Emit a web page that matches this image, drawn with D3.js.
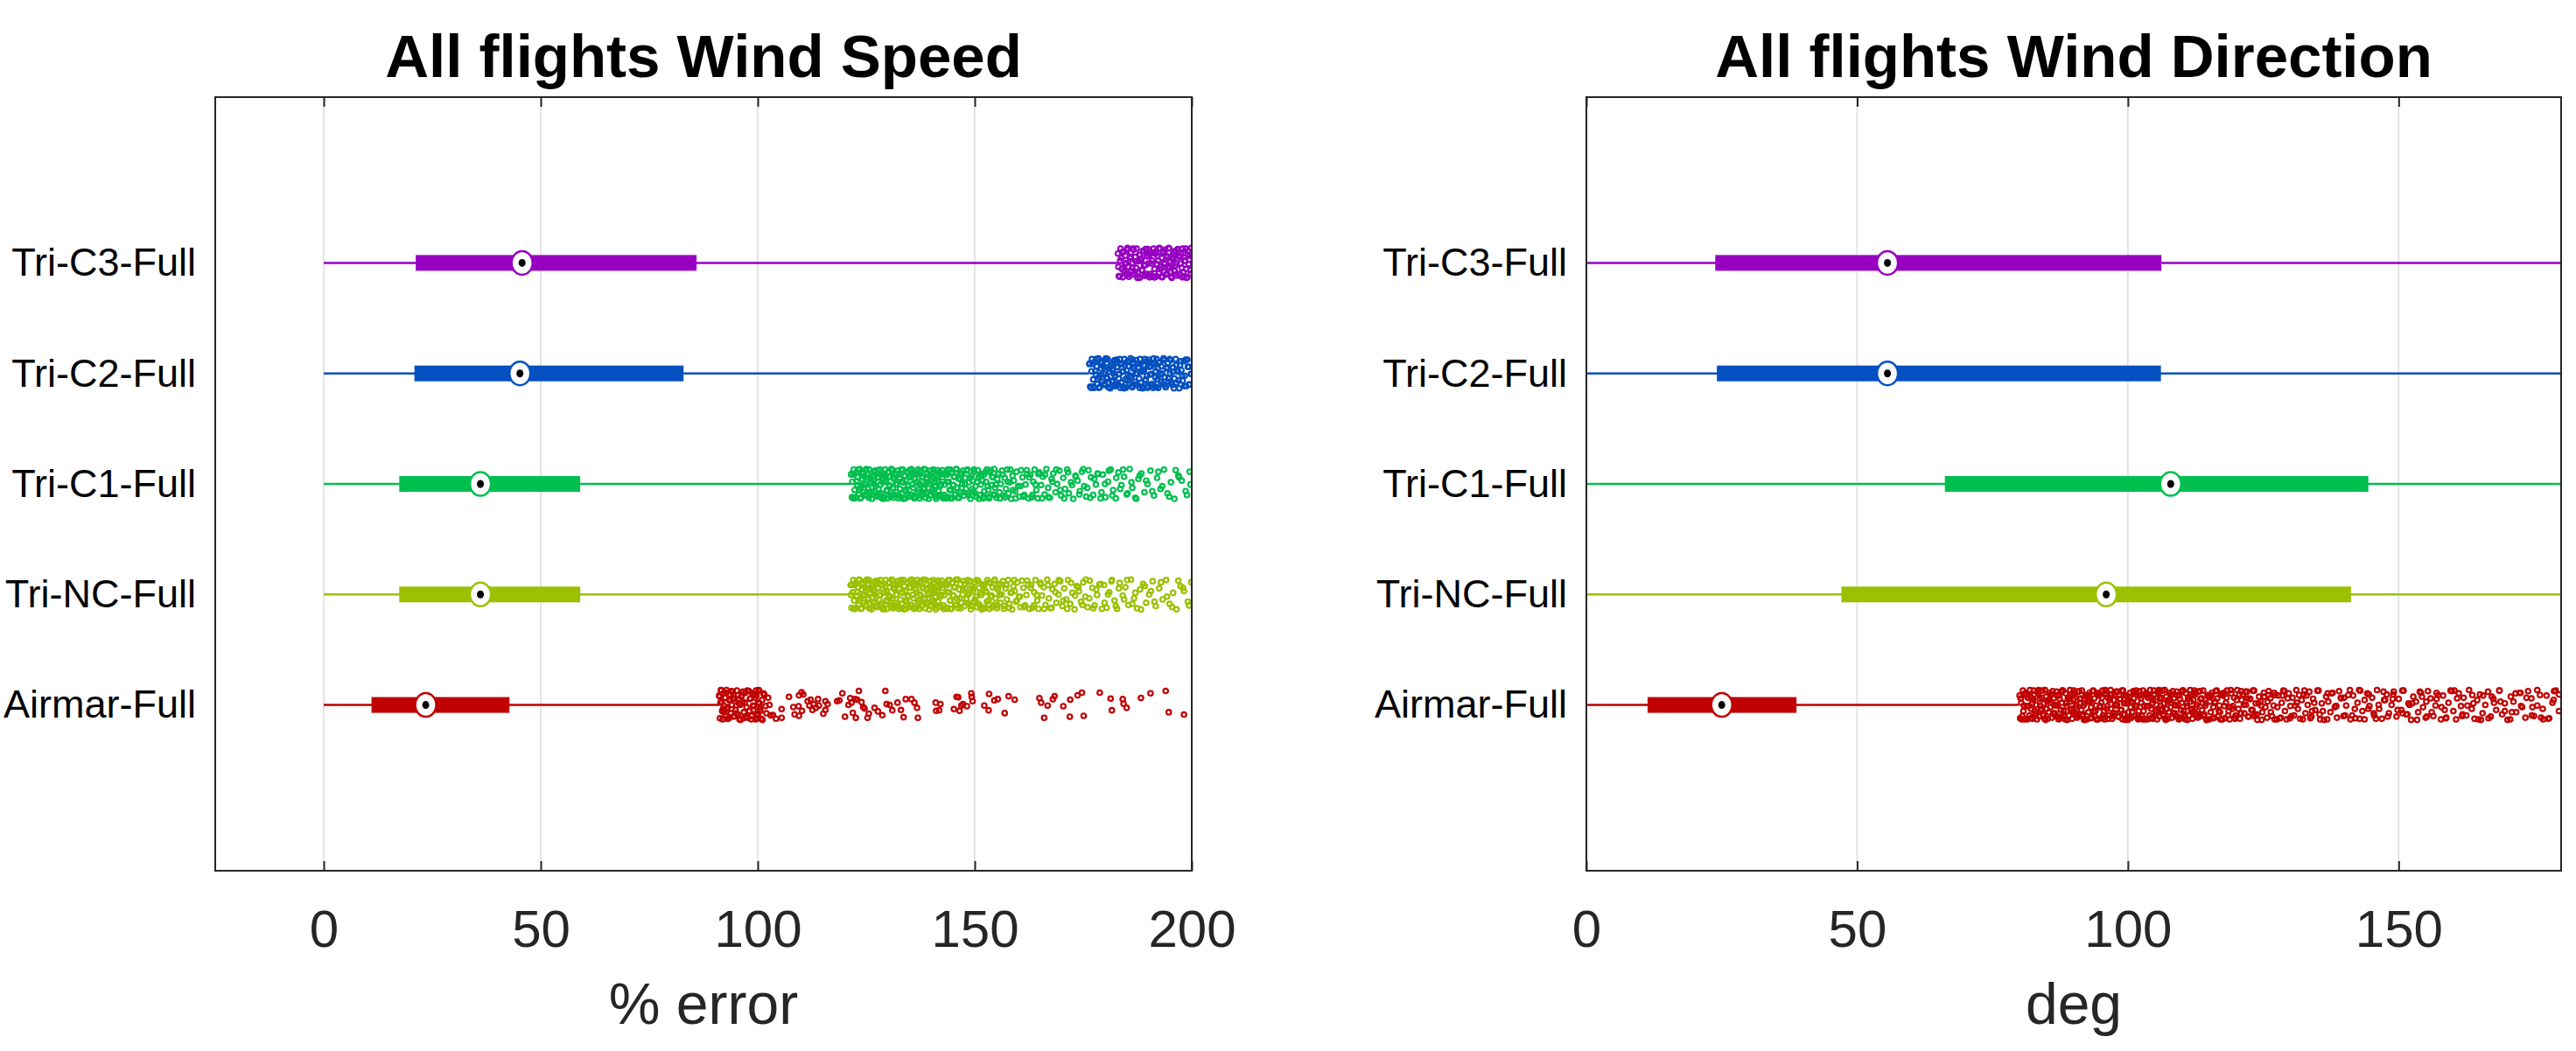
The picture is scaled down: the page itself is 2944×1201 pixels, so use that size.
<!DOCTYPE html>
<html>
<head>
<meta charset="utf-8">
<script src="https://cdn.jsdelivr.net/npm/d3@7"></script>
<style>
  body { margin: 0; background: #fff; }
  svg text { font-family: "Liberation Sans", Arial, Helvetica, sans-serif; }
</style>
</head>
<body>
<div class="chart"></div>
<script>
// declare global values
const WIDTH = 2944;
const HEIGHT = 1201;

// categories, bottom row first
const CATEGORIES = ["Airmar-Full", "Tri-NC-Full", "Tri-C1-Full", "Tri-C2-Full", "Tri-C3-Full"];
const COLORS = ["#c00000", "#9bc000", "#00bf4f", "#0450c0", "#9700c0"];

// wind speed box stats (% error)
const SPEED_LO = [0, 0, 0, 0, 0];
const SPEED_Q1 = [11.0, 17.4, 17.4, 20.9, 21.2];
const SPEED_MED = [23.5, 36.1, 36.1, 45.2, 45.7];
const SPEED_Q3 = [42.8, 59.1, 59.1, 82.9, 85.9];
const SPEED_HI = [91.0, 121.4, 121.4, 176.3, 182.9];

// wind direction box stats (deg)
const DIR_LO = [0, 0, 0, 0, 0];
const DIR_Q1 = [11.3, 47.1, 66.2, 24.1, 23.8];
const DIR_MED = [25.0, 96.0, 107.9, 55.6, 55.6];
const DIR_Q3 = [38.8, 141.2, 144.4, 106.1, 106.2];
const DIR_HI = [79.8, 180, 180, 180, 180];

const SPEED_TICKS = [0, 50, 100, 150, 200];
const DIR_TICKS = [0, 50, 100, 150];

// vertical jitter of outliers (row units)
const JITTER = [0.085, -0.12, 0.02, 0.13, -0.055, -0.13, 0.105, -0.01, 0.065, -0.095, 0.135, -0.035, -0.125,
  0.045, 0.095, -0.075, 0.0, 0.12, -0.105, 0.055, -0.045, 0.13, -0.085, 0.015, -0.135, 0.075, 0.03, -0.065,
  0.11, -0.02, -0.115, 0.125, 0.06, -0.1, -0.005, 0.09, -0.13];

// outliers, speed
const SPEED_OUT_AIRMAR = [91.1, 91.3, 91.4, 91.6, 91.8, 91.9, 92.1, 92.3, 92.5, 92.6, 92.8, 93.0, 93.2, 93.4,
  93.6, 93.8, 94.0, 94.2, 94.5, 94.7, 94.9, 95.2, 95.4, 95.7, 96.0, 96.2, 96.5, 96.8, 97.1, 97.4, 97.7,
  98.0, 98.3, 98.6, 98.9, 99.2, 99.5, 99.7, 99.9, 100.1, 100.3, 100.6, 100.9, 101.3, 101.8, 102.4, 103.0,
  91.5, 92.0, 92.9, 93.7, 94.4, 95.0, 95.9, 96.6, 97.3, 98.2, 99.0, 99.6, 100.0, 100.4, 101.1,
  91.2, 91.7, 92.2, 92.7, 93.1, 93.5, 93.9, 94.3, 94.6, 95.1, 95.5, 95.8, 96.3, 96.7, 97.0, 97.6, 98.1,
  98.5, 98.8, 99.1, 99.4, 99.8, 100.2, 100.5, 100.8, 101.0, 101.5, 102.0, 102.7,
  [105.5, -0.037], [104.2, -0.124], [105.5, -0.116], [103.5, -0.09], [107.2, 0.074], [109.5, 0.087],
  [110.1, 0.114], [110.5, 0.095], [108.2, -0.019], [109.4, -0.011], [108.5, -0.085], [109.5, -0.098],
  [110.2, -0.053], [111.5, 0.034], [112.2, 0.048], [111.9, -0.005], [112.9, 0.008], [113.4, -0.026],
  [112.6, -0.045], [113.9, 0.053], [114.1, -0.005], [115.1, -0.079], [115.6, 0.034], [116.1, 0.008],
  [115.6, -0.045], [118.3, 0.034], [118.8, 0.042], [119.5, 0.106], [120.1, -0.106], [121.3, 0.061],
  [121.6, 0.021], [121.9, -0.071], [120.9, 0.0], [122.4, 0.053], [122.9, 0.048], [122.6, -0.116],
  [123.3, 0.127], [123.9, 0.026], [124.3, -0.019], [124.6, -0.032], [125.3, -0.116], [125.6, -0.079],
  [126.9, -0.026], [127.7, -0.058], [128.7, -0.093], [129.4, 0.127], [129.7, 0.008], [130.4, 0.0],
  [131.0, -0.048], [132.2, 0.021], [133.0, -0.045], [133.6, -0.111], [134.1, 0.053], [135.4, 0.053],
  [136.1, 0.021], [136.7, -0.026], [136.9, -0.116], [141.0, 0.021], [142.1, 0.008], [141.1, -0.053],
  [141.8, -0.048], [145.2, -0.037], [145.8, 0.074], [146.2, 0.069], [146.5, -0.053], [146.9, -0.005],
  [147.3, 0.008], [148.2, -0.011], [149.2, 0.106], [149.3, 0.074], [149.5, 0.034], [152.2, -0.005],
  [153.2, -0.048], [153.3, 0.1], [154.5, 0.042], [155.3, 0.053], [156.9, -0.074], [157.8, 0.079],
  [159.2, 0.048], [164.9, 0.061], [165.3, 0.021], [166.0, -0.116], [166.8, -0.005], [168.0, 0.053],
  [168.4, 0.079], [170.4, -0.011], [172.0, 0.048], [171.9, -0.106], [173.7, 0.087], [174.7, 0.111],
  [175.1, -0.098], [178.8, 0.111], [181.3, 0.058], [181.6, -0.048], [184.1, 0.053], [184.3, 0.011],
  [185.0, -0.026], [188.3, 0.063], [190.5, 0.106], [194.0, 0.127], [194.7, -0.066], [198.2, -0.087]];

const SPEED_OUT_NC = [121.4, 121.6, 121.9, 122.0, 122.2, 122.5, 122.6, 122.8, 123.1, 123.2, 123.4, 123.6,
  123.9, 124.0, 124.2, 124.5, 124.6, 124.8, 125.0, 125.3, 125.4, 125.6, 125.9, 126.0, 126.2, 126.4, 126.7,
  126.8, 127.0, 127.3, 127.4, 127.6, 127.8, 128.1, 128.2, 128.4, 128.7, 128.8, 129.0, 129.2, 129.5, 129.6,
  129.8, 130.1, 130.2, 130.4, 130.6, 130.9, 131.0, 131.2, 131.5, 131.6, 131.8, 132.0, 132.3, 132.4, 132.6,
  132.9, 133.0, 133.2, 133.4, 133.7, 133.8, 134.0, 134.3, 134.4, 134.6, 134.8, 135.1, 135.2, 135.4, 135.7,
  135.8, 136.0, 136.2, 136.5, 136.6, 136.8, 137.1, 137.2, 137.4, 137.6, 137.9, 138.0, 138.2, 138.5, 138.6,
  138.8, 139.0, 139.3, 139.4, 139.6, 139.9, 140.0, 140.2, 140.4, 140.7, 140.8, 141.0, 141.3, 141.4, 141.6,
  141.8, 142.1, 142.2, 142.4, 142.7, 142.8, 143.0, 143.2, 143.5, 143.6, 143.8, 144.1, 144.2, 144.4, 144.6,
  144.9, 145.0, 145.2, 145.5, 145.7, 145.9, 146.2, 146.4, 146.7, 146.9, 147.2, 147.4, 147.6, 147.9, 148.1,
  148.4, 148.6, 148.8, 149.1, 149.3, 149.6, 149.8, 150.0, 150.3, 150.5, 150.8, 151.0, 151.2, 151.5, 151.7,
  152.0, 152.2, 152.4, 152.7, 152.9, 153.2, 153.4, 153.6, 153.9, 154.1, 154.4, 154.6, 154.8, 155.1, 155.3,
  155.6, 155.9, 156.2, 156.5, 156.8, 157.1, 157.4, 157.7, 158.0, 158.3, 158.6, 158.9, 159.2, 159.5, 159.8,
  160.2, 160.5, 160.9, 161.2, 161.6, 161.9, 162.3, 162.6, 163.0, 163.3, 163.7, 164.0, 164.4, 164.7, 165.1,
  165.5, 165.9, 166.3, 166.7, 167.1, 167.5, 167.9, 168.4, 168.8, 169.3, 169.7, 170.2, 170.6, 171.1, 171.5,
  172.0, 172.5, 173.0, 173.5, 174.0, 174.5, 175.0, 175.5, 176.0, 176.5, 177.1, 177.6, 178.2, 178.7, 179.3,
  179.8, 180.4, 181.0, 181.6, 182.2, 182.8, 183.4, 184.1, 184.7, 185.4, 186.0, 186.7, 187.4, 188.1, 188.8,
  189.5, 190.2, 191.0, 191.7, 192.5, 193.3, 194.1, 194.9, 195.7, 196.5, 197.4, 198.2, 199.1, 199.9,
  160.4, 161.3, 162.1, 162.9, 163.6, 164.3, 165.2, 166.0, 166.9, 167.7, 168.6, 169.4, 170.4, 171.3, 172.2,
  173.1, 173.9, 174.8, 175.6, 176.4, 177.3, 178.0, 179.0, 179.9, 180.7, 181.5, 182.5, 183.2, 184.4, 185.1,
  186.3, 187.0, 188.3, 189.2, 190.6, 191.4, 192.9, 194.3, 195.5, 196.9, 198.0, 199.4,
  121.5, 121.8, 122.1, 122.4, 122.7, 122.9, 123.3, 123.5, 123.8, 124.1, 124.3, 124.7, 124.9, 125.2, 125.5,
  125.7, 126.1, 126.3, 126.6, 126.9, 127.1, 127.5, 127.7, 128.0, 128.3, 128.5, 128.9, 129.1, 129.4, 129.7,
  129.9, 130.3, 130.5, 130.8, 131.1, 131.3, 131.7, 131.9, 132.2, 132.5, 132.7, 133.1, 133.3, 133.6, 133.9,
  134.1, 134.5, 134.7, 135.0, 135.3, 135.5, 135.9, 136.1, 136.4, 136.7, 136.9, 137.3, 137.5, 137.8, 138.1,
  138.3, 138.7, 138.9, 139.2, 139.5, 139.7, 140.1, 140.3, 140.6, 140.9, 141.1, 141.5, 141.7, 142.0, 142.3,
  142.5, 142.9, 143.1, 143.4, 143.7, 143.9, 144.3, 144.5, 144.8, 145.1, 145.4, 145.8, 146.1, 146.5, 146.8,
  147.3, 147.7, 148.0, 148.5, 148.9, 149.2, 149.7, 150.1, 150.4, 150.9, 151.3, 151.6, 152.1, 152.5, 152.8,
  153.3, 153.7, 154.0, 154.5, 154.9, 155.2, 155.7, 156.1, 156.7, 157.3, 157.9, 158.5, 159.1, 159.7];

const SPEED_OUT_C1 = [121.5, 121.7, 121.8, 122.1, 122.3, 122.4, 122.7, 122.9, 123.0, 123.3, 123.5, 123.7,
  123.8, 124.1, 124.3, 124.4, 124.7, 124.9, 125.1, 125.2, 125.5, 125.7, 125.8, 126.1, 126.3, 126.5, 126.6,
  126.9, 127.1, 127.2, 127.5, 127.7, 127.9, 128.0, 128.3, 128.5, 128.6, 128.9, 129.1, 129.3, 129.4, 129.7,
  129.9, 130.0, 130.3, 130.5, 130.7, 130.8, 131.1, 131.3, 131.4, 131.7, 131.9, 132.1, 132.2, 132.5, 132.7,
  132.8, 133.1, 133.3, 133.5, 133.6, 133.9, 134.1, 134.2, 134.5, 134.7, 134.9, 135.0, 135.3, 135.5, 135.6,
  135.9, 136.1, 136.3, 136.4, 136.7, 136.9, 137.0, 137.3, 137.5, 137.7, 137.8, 138.1, 138.3, 138.4, 138.7,
  138.9, 139.1, 139.2, 139.5, 139.7, 139.8, 140.1, 140.3, 140.5, 140.6, 140.9, 141.1, 141.2, 141.5, 141.7,
  141.9, 142.0, 142.3, 142.5, 142.6, 142.9, 143.1, 143.3, 143.4, 143.7, 143.9, 144.0, 144.3, 144.5, 144.7,
  144.8, 145.1, 145.3, 145.4, 145.7, 145.9, 146.1, 146.3, 146.6, 146.8, 147.1, 147.3, 147.5, 147.8, 148.0,
  148.3, 148.5, 148.7, 149.0, 149.2, 149.5, 149.7, 149.9, 150.2, 150.4, 150.7, 150.9, 151.1, 151.4, 151.6,
  151.9, 152.1, 152.3, 152.6, 152.8, 153.1, 153.3, 153.5, 153.8, 154.0, 154.3, 154.5, 154.7, 155.0, 155.2,
  155.5, 155.7, 156.0, 156.3, 156.6, 156.9, 157.2, 157.5, 157.8, 158.1, 158.4, 158.7, 159.0, 159.3, 159.6,
  160.0, 160.3, 160.7, 161.0, 161.4, 161.7, 162.1, 162.4, 162.8, 163.1, 163.5, 163.8, 164.2, 164.5, 164.9,
  165.3, 165.7, 166.1, 166.5, 166.9, 167.3, 167.7, 168.1, 168.6, 169.0, 169.5, 169.9, 170.4, 170.8, 171.3,
  171.7, 172.2, 172.7, 173.2, 173.7, 174.2, 174.7, 175.2, 175.7, 176.2, 176.8, 177.3, 177.9, 178.4, 179.0,
  179.5, 180.1, 180.7, 181.3, 181.9, 182.5, 183.1, 183.8, 184.4, 185.0, 185.7, 186.3, 187.0, 187.7, 188.4,
  189.1, 189.8, 190.5, 191.3, 192.0, 192.8, 193.6, 194.4, 195.2, 196.0, 196.9, 197.7, 198.6, 199.5,
  160.5, 161.2, 162.0, 162.6, 163.3, 164.0, 164.7, 165.5, 166.2, 167.0, 167.9, 168.8, 169.7, 170.6, 171.5,
  172.4, 173.3, 174.1, 175.0, 175.9, 176.6, 177.5, 178.3, 179.2, 180.0, 180.9, 181.7, 182.6, 183.5, 184.2,
  185.2, 186.1, 187.2, 188.0, 189.5, 190.9, 192.3, 193.2, 194.8, 196.3, 197.1, 198.9, 199.7,
  121.6, 122.0, 122.2, 122.6, 122.8, 123.2, 123.4, 123.6, 124.0, 124.2, 124.6, 124.8, 125.0, 125.4, 125.6,
  126.0, 126.2, 126.4, 126.8, 127.0, 127.4, 127.6, 127.8, 128.2, 128.4, 128.8, 129.0, 129.2, 129.6, 129.8,
  130.2, 130.4, 130.6, 131.0, 131.2, 131.6, 131.8, 132.0, 132.4, 132.6, 133.0, 133.2, 133.4, 133.8, 134.0,
  134.4, 134.6, 134.8, 135.2, 135.4, 135.8, 136.0, 136.2, 136.6, 136.8, 137.2, 137.4, 137.6, 138.0, 138.2,
  138.6, 138.8, 139.0, 139.4, 139.6, 140.0, 140.2, 140.4, 140.8, 141.0, 141.4, 141.6, 141.8, 142.2, 142.4,
  142.8, 143.0, 143.2, 143.6, 143.8, 144.2, 144.4, 144.6, 145.0, 145.2, 145.6, 145.8, 146.0, 146.4, 146.7,
  147.0, 147.4, 147.7, 148.2, 148.6, 148.9, 149.4, 149.8, 150.1, 150.6, 151.0, 151.3, 151.8, 152.2, 152.5,
  153.0, 153.4, 153.7, 154.2, 154.6, 154.9, 155.4, 155.8, 156.4, 157.0, 157.6, 158.2, 158.8, 159.4];

const SPEED_OUT_C2 = [176.4, 176.6, 176.9, 177.0, 177.3, 177.5, 177.6, 177.9, 178.1, 178.2, 178.5, 178.7,
  178.8, 179.1, 179.3, 179.4, 179.7, 179.9, 180.0, 180.3, 180.5, 180.6, 180.9, 181.1, 181.2, 181.5, 181.7,
  181.8, 182.1, 182.3, 182.4, 182.7, 182.9, 183.0, 183.3, 183.5, 183.6, 183.9, 184.1, 184.2, 184.5, 184.7,
  184.8, 185.1, 185.3, 185.4, 185.7, 185.9, 186.1, 186.3, 186.5, 186.6, 186.9, 187.1, 187.2, 187.5, 187.7,
  187.9, 188.1, 188.3, 188.4, 188.7, 188.9, 189.0, 189.3, 189.5, 189.7, 189.9, 190.1, 190.2, 190.5, 190.7,
  190.9, 191.1, 191.3, 191.5, 191.7, 191.9, 192.1, 192.3, 192.6, 192.8, 193.0, 193.3, 193.5, 193.8, 194.0,
  194.2, 194.5, 194.7, 195.0, 195.2, 195.5, 195.7, 196.0, 196.3, 196.5, 196.8, 197.1, 197.3, 197.6, 197.9,
  198.2, 198.4, 198.7, 199.0, 199.3, 199.5, 199.8,
  176.5, 176.8, 177.2, 177.4, 177.8, 178.0, 178.4, 178.6, 179.0, 179.2, 179.6, 179.8, 180.2, 180.4, 180.8,
  181.0, 181.4, 181.6, 182.0, 182.2, 182.6, 182.8, 183.2, 183.4, 183.8, 184.0, 184.4, 184.6, 185.0, 185.2,
  185.6, 185.8, 186.2, 186.4, 186.8, 187.0, 187.4, 187.6, 188.0, 188.2, 188.6, 188.8, 189.2, 189.4, 189.8,
  190.0, 190.4, 190.6, 191.0, 191.2, 191.6, 191.8, 192.2, 192.4, 192.9, 193.2, 193.6, 193.9, 194.3, 194.6,
  194.9, 195.3, 195.6, 195.9, 196.4, 196.7, 197.0, 197.5, 197.8, 198.3, 198.6, 199.1, 199.4, 199.9];

const SPEED_OUT_C3 = [183.0, 183.2, 183.5, 183.6, 183.9, 184.1, 184.3, 184.6, 184.7, 185.0, 185.2, 185.4,
  185.5, 185.8, 186.0, 186.1, 186.4, 186.6, 186.7, 187.0, 187.2, 187.3, 187.6, 187.8, 188.0, 188.1, 188.4,
  188.5, 188.8, 189.0, 189.1, 189.4, 189.6, 189.7, 190.0, 190.2, 190.3, 190.6, 190.8, 190.9, 191.2, 191.4,
  191.5, 191.8, 192.0, 192.1, 192.4, 192.5, 192.8, 193.0, 193.1, 193.4, 193.6, 193.8, 193.9, 194.2, 194.4,
  194.5, 194.8, 195.0, 195.1, 195.4, 195.6, 195.7, 196.0, 196.2, 196.3, 196.6, 196.8, 196.9, 197.2, 197.4,
  197.5, 197.8, 198.0, 198.2, 198.4, 198.6, 198.7, 199.0, 199.2, 199.3, 199.6, 199.8, 199.9,
  183.1, 183.4, 183.8, 184.0, 184.4, 184.9, 185.1, 185.6, 185.9, 186.3, 186.5, 186.9, 187.1, 187.5, 187.9,
  188.2, 188.6, 188.9, 189.3, 189.5, 189.9, 190.1, 190.5, 190.7, 191.1, 191.3, 191.7, 191.9, 192.3, 192.7,
  192.9, 193.2, 193.5, 193.7, 194.1, 194.3, 194.7, 194.9, 195.3, 195.5, 195.9, 196.1, 196.5, 196.7, 197.1,
  197.3, 197.7, 197.9, 198.1, 198.5, 198.8, 199.1, 199.4, 199.7];

// outliers, direction
const DIR_OUT_AIRMAR = [80.0, 80.1, 80.3, 80.6, 80.7, 80.9, 81.2, 81.3, 81.5, 81.8, 81.9, 82.1, 82.4, 82.5,
  82.7, 83.0, 83.1, 83.3, 83.6, 83.7, 83.9, 84.2, 84.3, 84.5, 84.8, 84.9, 85.1, 85.4, 85.5, 85.7, 86.0,
  86.1, 86.3, 86.6, 86.7, 86.9, 87.2, 87.3, 87.5, 87.8, 87.9, 88.1, 88.4, 88.5, 88.7, 89.0, 89.1, 89.3,
  89.6, 89.7, 89.9, 90.2, 90.3, 90.5, 90.8, 90.9, 91.1, 91.4, 91.5, 91.7, 92.0, 92.1, 92.3, 92.6, 92.7,
  92.9, 93.2, 93.3, 93.5, 93.8, 93.9, 94.1, 94.4, 94.5, 94.7, 95.0, 95.1, 95.3, 95.6, 95.7, 95.9, 96.2,
  96.3, 96.5, 96.8, 96.9, 97.1, 97.4, 97.5, 97.7, 98.0, 98.1, 98.3, 98.6, 98.7, 98.9, 99.2, 99.3, 99.5,
  99.8, 99.9, 100.1, 100.4, 100.5, 100.7, 101.0, 101.1, 101.3, 101.6, 101.7, 101.9, 102.2, 102.3, 102.5,
  102.8, 102.9, 103.1, 103.4, 103.5, 103.7, 104.0, 104.1, 104.3, 104.6, 104.7, 104.9, 105.2, 105.3, 105.5,
  105.8, 105.9, 106.1, 106.4, 106.5, 106.7, 107.0, 107.1, 107.3, 107.6, 107.7, 107.9, 108.2, 108.3, 108.5,
  108.8, 108.9, 109.1, 109.4, 109.5, 109.7, 110.0, 110.1, 110.3, 110.6, 110.7, 110.9, 111.2, 111.3, 111.5,
  111.8, 111.9, 112.1, 112.4, 112.5, 112.7, 113.0, 113.2, 113.4, 113.7, 113.9, 114.1, 114.4, 114.6, 114.8,
  115.1, 115.3, 115.5, 115.8, 116.0, 116.2, 116.5, 116.7, 116.9, 117.2, 117.4, 117.6, 117.9, 118.1, 118.3,
  118.6, 118.8, 119.1, 119.4, 119.6, 119.9, 120.2, 120.4, 120.7, 121.0, 121.2, 121.5, 121.8, 122.0, 122.3,
  122.6, 122.8, 123.1, 123.4, 123.6, 123.9, 124.2, 124.5, 124.8, 125.1, 125.4, 125.7, 126.0, 126.3, 126.6,
  126.9, 127.2, 127.5, 127.8, 128.1, 128.4, 128.7, 129.0, 129.3, 129.7, 130.0, 130.4, 130.7, 131.1, 131.4,
  131.8, 132.1, 132.5, 132.8, 133.2, 133.5, 133.9, 134.2, 134.6, 135.0, 135.4, 135.8, 136.2, 136.6, 137.0,
  137.4, 137.8, 138.2, 138.6, 139.0, 139.4, 139.8, 140.3, 140.7, 141.1, 141.6, 142.0, 142.4, 142.9, 143.3,
  143.7, 144.2, 144.6, 145.1, 145.5, 146.0, 146.4, 146.9, 147.3, 147.8, 148.2, 148.7, 149.1, 149.6, 150.0,
  150.5, 150.9, 151.4, 151.8, 152.3, 152.7, 153.2, 153.6, 154.1, 154.5, 155.0, 155.4, 155.9, 156.4, 156.8,
  157.3, 157.8, 158.2, 158.7, 159.2, 159.6, 160.1, 160.6, 161.1, 161.5, 162.0, 162.5, 163.0, 163.5, 164.0,
  164.5, 165.0, 165.5, 166.0, 166.5, 167.0, 167.5, 168.0, 168.6, 169.1, 169.6, 170.1, 170.7, 171.2, 171.7,
  172.3, 172.8, 173.4, 173.9, 174.5, 175.0, 175.6, 176.1, 176.7, 177.3, 177.8, 178.4, 179.0, 179.6,
  80.4, 81.0, 81.7, 82.2, 82.9, 83.5, 84.0, 84.6, 85.3, 85.9, 86.5, 87.0, 87.7, 88.3, 88.9, 89.4, 90.0,
  90.7, 91.2, 91.9, 92.5, 93.0, 93.7, 94.3, 94.8, 95.5, 96.0, 96.7, 97.2, 97.9, 98.4, 99.0, 99.6, 100.3,
  100.9, 101.5, 102.0, 102.7, 103.3, 103.9, 104.4, 105.0, 105.7, 106.3, 106.9, 107.5, 108.0, 108.7, 109.3,
  109.9, 110.5, 111.1, 111.7, 112.3, 113.1, 113.8, 114.5, 115.2, 116.1, 117.0, 117.8, 118.9, 119.7, 120.9,
  122.1, 123.3, 124.6, 125.9, 127.1, 128.5, 129.9, 131.2, 132.6, 134.0, 135.5, 136.9, 138.4, 139.9, 141.4,
  142.7, 144.4, 145.8, 147.5, 149.0, 150.7, 152.0, 153.9, 155.2, 157.0, 158.5, 160.3, 161.8, 163.8, 165.2,
  167.2, 168.8, 170.9, 172.5, 174.7, 176.3, 178.7,
  80.2, 80.5, 80.8, 81.1, 81.4, 81.6, 82.0, 82.3, 82.6, 82.8, 83.2, 83.4, 83.8, 84.1, 84.4, 84.7, 85.0,
  85.2, 85.6, 85.8, 86.2, 86.4, 86.8, 87.1, 87.4, 87.6, 88.0, 88.2, 88.6, 88.8, 89.2, 89.5, 89.8, 90.0,
  90.4, 90.6, 91.0, 91.3, 91.6, 91.8, 92.2, 92.4, 92.8, 93.1, 93.4, 93.6, 94.0, 94.2, 94.6, 94.9, 95.2,
  95.4, 95.8, 96.1, 96.4, 96.6, 97.0, 97.3, 97.6, 97.8, 98.2, 98.5, 98.8, 99.1, 99.4, 99.7, 100.0, 100.2,
  100.6, 100.8, 101.2, 101.4, 101.8, 102.1, 102.4, 102.6, 103.0, 103.2, 103.6, 103.8, 104.2, 104.5, 104.8,
  105.1, 105.4, 105.6, 106.0, 106.2, 106.6, 106.8, 107.2, 107.4, 107.8, 108.1, 108.4, 108.6, 109.0, 109.2,
  109.6, 109.8, 110.2, 110.4, 110.8, 111.0, 111.4, 111.6, 112.0, 112.2, 112.6, 112.9, 113.3, 113.6, 114.0,
  114.3, 114.7, 115.0, 115.4, 115.7, 116.1, 116.4, 116.8, 117.1, 117.5, 117.8, 118.2, 118.5, 119.0, 119.3,
  119.8, 120.1, 120.6, 120.9, 121.4, 121.7, 122.2, 122.5, 123.0, 123.3, 123.8, 124.1, 124.7, 125.2, 125.8,
  126.4, 127.0, 127.6, 128.2, 128.9, 129.5, 130.2, 130.9, 131.6, 132.3, 133.0, 133.7, 134.4, 135.2, 136.0,
  136.8, 137.6, 138.5, 139.3, 140.1, 141.0, 141.9, 142.8, 143.7, 144.5, 145.4, 146.3, 147.2, 148.0, 148.9,
  149.8, 150.7, 151.6, 152.5, 153.4, 154.3, 155.1, 156.1, 157.0, 157.9, 158.8, 159.8, 160.8, 161.7, 162.7,
  163.6, 164.7, 165.6, 166.6, 167.6, 168.6, 169.6, 170.6, 171.6, 172.6, 173.6, 174.6, 175.6, 176.6, 177.6,
  178.6, 179.6];

// append the svg object to the page
var svg = d3
  .select(".chart")
  .append("svg")
  .attr("width", WIDTH)
  .attr("height", HEIGHT);

svg.append("rect").attr("width", WIDTH).attr("height", HEIGHT).attr("fill", "#fff");

const TOP = 111;
const BOTTOM = 995;

// DRAW ONE PANEL
const DRAWPANEL = (p) => {
  var x = d3.scaleLinear().domain(p.domain).range([p.left, p.right]);
  var y = d3.scaleLinear().domain([-0.5, 6.5]).range([BOTTOM, TOP]);
  var g = svg.append("g");

  g.append("clipPath")
    .attr("id", p.id)
    .append("rect")
    .attr("x", p.left)
    .attr("y", TOP)
    .attr("width", p.right - p.left)
    .attr("height", BOTTOM - TOP);

  // grid lines
  g.selectAll(".grid")
    .data(p.ticks)
    .enter()
    .append("line")
    .attr("x1", (d) => x(d))
    .attr("x2", (d) => x(d))
    .attr("y1", TOP)
    .attr("y2", BOTTOM)
    .attr("stroke", "#dedede")
    .attr("stroke-width", 1.6);

  var plot = g.append("g").attr("clip-path", "url(#" + p.id + ")");

  CATEGORIES.forEach(function (c, i) {
    var row = i + 1;
    var color = COLORS[i];

    // outliers
    plot
      .append("g")
      .selectAll("circle")
      .data(p.out[i])
      .enter()
      .append("circle")
      .attr("cx", (d) => x(Array.isArray(d) ? d[0] : d))
      .attr("cy", (d, k) => y(row + (Array.isArray(d) ? d[1] : JITTER[k % JITTER.length])))
      .attr("r", 2.7)
      .attr("fill", "none")
      .attr("stroke", color)
      .attr("stroke-width", 2.2);

    // whisker line
    plot
      .append("line")
      .attr("x1", x(p.lo[i]))
      .attr("x2", x(p.hi[i]))
      .attr("y1", y(row))
      .attr("y2", y(row))
      .attr("stroke", color)
      .attr("stroke-width", 2.5);

    // box
    plot
      .append("rect")
      .attr("x", x(p.q1[i]))
      .attr("y", y(row) - 9)
      .attr("width", x(p.q3[i]) - x(p.q1[i]))
      .attr("height", 18)
      .attr("fill", color);

    // median marker
    plot
      .append("ellipse")
      .attr("cx", x(p.med[i]))
      .attr("cy", y(row))
      .attr("rx", 12)
      .attr("ry", 13.5)
      .attr("fill", "#fff")
      .attr("stroke", color)
      .attr("stroke-width", 2.5);
    plot
      .append("ellipse")
      .attr("cx", x(p.med[i]))
      .attr("cy", y(row))
      .attr("rx", 4)
      .attr("ry", 4.5)
      .attr("fill", "#000");
  });

  // add the x axis (ticks point inward)
  g.append("g")
    .attr("transform", `translate(0,${BOTTOM})`)
    .call(d3.axisBottom(x).tickValues(p.ticks).tickSize(-11).tickPadding(44).tickFormat(d3.format("d")))
    .call((a) => a.select(".domain").remove())
    .call((a) => a.selectAll(".tick line").attr("stroke", "#262626").attr("stroke-width", 2))
    .call((a) => a.selectAll(".tick text").attr("font-size", 60).attr("fill", "#262626"));

  g.append("g")
    .attr("transform", `translate(0,${TOP})`)
    .call(d3.axisTop(x).tickValues(p.ticks).tickSize(-11).tickFormat(""))
    .call((a) => a.select(".domain").remove())
    .call((a) => a.selectAll(".tick line").attr("stroke", "#262626").attr("stroke-width", 2));

  // add the y axis labels
  g.append("g")
    .attr("transform", `translate(${p.left},0)`)
    .call(
      d3.axisLeft(y)
        .tickValues([1, 2, 3, 4, 5])
        .tickSize(0)
        .tickPadding(22)
        .tickFormat((d) => CATEGORIES[d - 1])
    )
    .call((a) => a.select(".domain").remove())
    .call((a) => a.selectAll(".tick text").attr("font-size", 45).attr("fill", "#000"));

  // axes box
  g.append("rect")
    .attr("x", p.left)
    .attr("y", TOP)
    .attr("width", p.right - p.left)
    .attr("height", BOTTOM - TOP)
    .attr("fill", "none")
    .attr("stroke", "#262626")
    .attr("stroke-width", 2);

  // title and x label
  g.append("text")
    .attr("x", (p.left + p.right) / 2)
    .attr("y", 88)
    .attr("text-anchor", "middle")
    .attr("font-size", 69)
    .attr("font-weight", "bold")
    .attr("fill", "#000")
    .text(p.title);

  g.append("text")
    .attr("x", (p.left + p.right) / 2)
    .attr("y", 1170)
    .attr("text-anchor", "middle")
    .attr("font-size", 66)
    .attr("fill", "#262626")
    .text(p.xlabel);
};

DRAWPANEL({
  id: "clipSpeed",
  left: 246,
  right: 1362,
  domain: [-25, 200],
  ticks: SPEED_TICKS,
  title: "All flights Wind Speed",
  xlabel: "% error",
  lo: SPEED_LO, q1: SPEED_Q1, med: SPEED_MED, q3: SPEED_Q3, hi: SPEED_HI,
  out: [SPEED_OUT_AIRMAR, SPEED_OUT_NC, SPEED_OUT_C1, SPEED_OUT_C2, SPEED_OUT_C3],
});

DRAWPANEL({
  id: "clipDir",
  left: 1813,
  right: 2927,
  domain: [0, 180],
  ticks: DIR_TICKS,
  title: "All flights Wind Direction",
  xlabel: "deg",
  lo: DIR_LO, q1: DIR_Q1, med: DIR_MED, q3: DIR_Q3, hi: DIR_HI,
  out: [DIR_OUT_AIRMAR, [], [], [], []],
});
</script>
</body>
</html>
